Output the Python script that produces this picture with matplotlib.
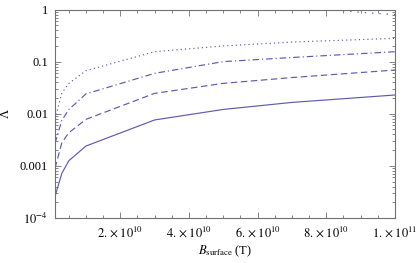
import numpy as np
import matplotlib
matplotlib.use('Agg')
import matplotlib.pyplot as plt
from matplotlib.ticker import FixedLocator, MultipleLocator, LogLocator, NullFormatter

# data (Lambda vs surface field)
b_surface = [1e9, 3e9, 5e9, 1e10, 3e10, 5e10, 7e10, 1e11]
lam_solid   = [2.6e-4, 7.2e-4, 1.25e-3, 2.4e-3, 7.6e-3, 0.0121, 0.0165, 0.0229]
lam_dashed  = [9.0e-4, 2.8e-3, 4.3e-3, 7.8e-3, 0.0246, 0.0383, 0.0495, 0.069]
lam_dashdot = [2.7e-3, 7.5e-3, 0.012, 0.024, 0.0596, 0.100, 0.120, 0.155]
lam_dotted  = [8.0e-3, 0.025, 0.038, 0.067, 0.155, 0.200, 0.237, 0.280]
b_top   = [7e10, 8e10, 9e10, 1e11]
lam_top = [1.25, 1.03, 0.88, 0.80]

xticks = [2e10, 4e10, 6e10, 8e10, 1e11]
xticklabels = [r'$2.\times10^{10}$', r'$4.\times10^{10}$', r'$6.\times10^{10}$',
               r'$8.\times10^{10}$', r'$1.\times10^{11}$']
yticks = [1e-4, 1e-3, 1e-2, 1e-1, 1]
yticklabels = [r'$10^{-4}$', '0.001', '0.01', '0.1', '1']

plt.rcParams['font.family'] = 'Liberation Serif'
plt.rcParams['mathtext.fontset'] = 'stix'
plt.rcParams['font.size'] = 9

col = '#5c5cb0'
frame = '#707070'

fig = plt.figure(figsize=(4.17, 2.63), dpi=100)
ax = fig.add_axes([55/417., 1-218/263., 340/417., 208.5/263.])

ax.plot(b_surface, lam_solid, color=col, lw=0.85)
ax.plot(b_surface, lam_dashed, color=col, lw=0.85, linestyle=(0, (5.5, 3)))
ax.plot(b_surface, lam_dashdot, color=col, lw=0.85, linestyle=(0, (5.5, 2.5, 1, 2.5)))
ax.plot(b_surface, lam_dotted, color=col, lw=0.85, linestyle=(0, (1, 2.6)))
ax.plot(b_top, lam_top, color=col, lw=0.85, linestyle=(0, (1.2, 5)))

ax.set_yscale('log')
ax.set_xlim(1e9, 1e11)
ax.set_ylim(1e-4, 1)

ax.xaxis.set_major_locator(FixedLocator(xticks))
ax.set_xticklabels(xticklabels)
ax.xaxis.set_minor_locator(MultipleLocator(5e9))
ax.yaxis.set_major_locator(FixedLocator(yticks))
ax.set_yticklabels(yticklabels)
ax.yaxis.set_minor_locator(LogLocator(base=10, subs=np.arange(2, 10)))
ax.yaxis.set_minor_formatter(NullFormatter())

ax.tick_params(which='both', direction='in', top=True, right=True, color=frame, width=0.6)
ax.tick_params(which='major', length=4, pad=5)
ax.tick_params(which='minor', length=2)
for s in ax.spines.values():
    s.set_color(frame)
    s.set_linewidth(0.8)

ax.set_xlabel(r'$B_{\mathrm{surface}}$ (T)', labelpad=3)
ax.set_ylabel('Λ', rotation=90, labelpad=6)

fig.savefig('out.png', dpi=100)
